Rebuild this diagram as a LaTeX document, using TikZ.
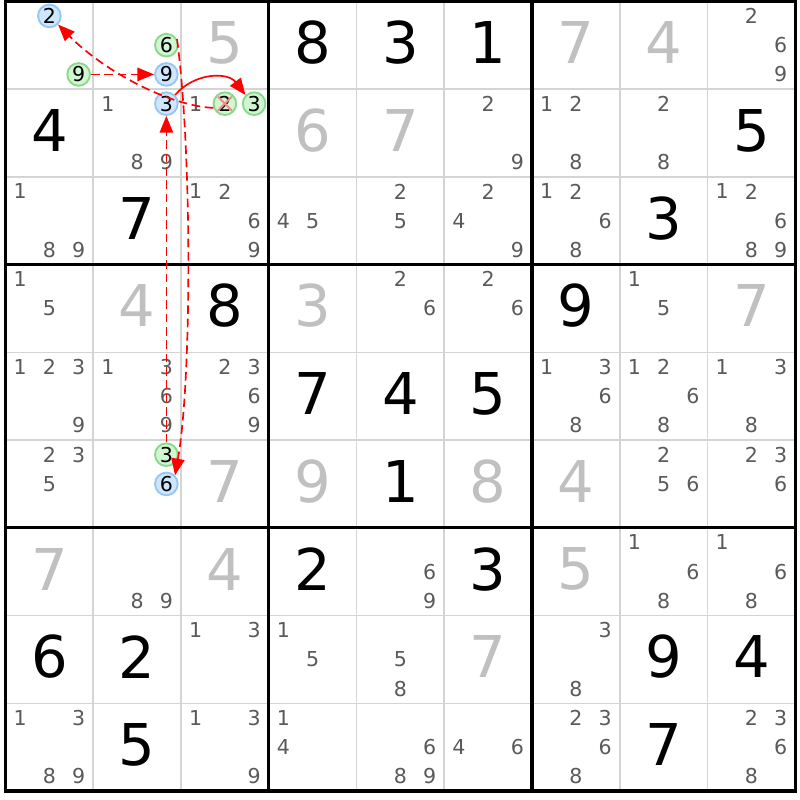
\documentclass[tikz,border=0pt]{standalone}
\usepackage{fontspec}
\setmainfont{DejaVu Sans}
\usetikzlibrary{arrows.meta}
\definecolor{candgray}{HTML}{5A5A5A}
\definecolor{solvedgray}{HTML}{C0C0C0}
\definecolor{thingrid}{HTML}{D4D4D4}
\definecolor{bluefill}{HTML}{CFE6FF}
\definecolor{blueedge}{HTML}{96C6F5}
\definecolor{greenfill}{HTML}{D2F5D2}
\definecolor{greenedge}{HTML}{8AD98A}
\definecolor{crosspink}{HTML}{F28C8C}
\newcommand\sdcand[4][candtxt]{%
  \pgfmathsetmacro\sdx{5.5+87.75*(#3-1)+29.25*(mod(#4-1,3)+0.5)}%
  \pgfmathsetmacro\sdy{1.3+87.75*(#2-1)+29.25*(floor((#4-1)/3)+0.5)}%
  \node[#1] (k#2#3#4) at (\sdx,\sdy) {#4};}
\begin{document}
\begin{tikzpicture}[x=0.75pt,y=-0.75pt,
  given/.style={font=\fontsize{43.2}{50}\selectfont, text=black, inner sep=0pt},
  solved/.style={given, text=solvedgray},
  candtxt/.style={font=\fontsize{15.4}{18}\selectfont, text=candgray, inner sep=0pt},
  bluecand/.style={circle, draw=blueedge, fill=bluefill, line width=1.4pt, minimum size=17pt, inner sep=0pt, text=black, font=\fontsize{15.4}{18}\selectfont},
  greencand/.style={bluecand, draw=greenedge, fill=greenfill},
  weaklink/.style={draw=red, line width=1.25pt, dash pattern=on 6.5pt off 3.5pt, -{Triangle[length=12.5pt,width=10pt]}},
  stronglink/.style={draw=red, line width=1.25pt, -{Triangle[length=12.5pt,width=10pt]}},
  thinline/.style={draw=thingrid, line width=1.2pt},
  thickline/.style={draw=black, line width=2.4pt, line cap=rect}]
\useasboundingbox[fill=white] (0,0) rectangle (800,800);
% grid
\foreach \i in {1,2,4,5,7,8} {
  \draw[thinline] ({5.5+87.75*\i},1.3) -- ({5.5+87.75*\i},791.05);
  \draw[thinline] (5.5,{1.3+87.75*\i}) -- (795.25,{1.3+87.75*\i});
}
\foreach \i in {0,3,6,9} {
  \draw[thickline] ({5.5+87.75*\i},1.3) -- ({5.5+87.75*\i},791.05);
  \draw[thickline] (5.5,{1.3+87.75*\i}) -- (795.25,{1.3+87.75*\i});
}
% given digits
\foreach \r/\c/\v in {1/4/8,1/5/3,1/6/1,2/1/4,2/9/5,3/2/7,3/8/3,4/3/8,4/7/9,5/4/7,5/5/4,5/6/5,6/5/1,7/4/2,7/6/3,8/1/6,8/2/2,8/8/9,8/9/4,9/2/5,9/8/7}
  \node[given] (g\r\c) at ({5.5+87.75*(\c-0.5)},{1.3+87.75*(\r-0.5)-2.5}) {\v};
% solved digits
\foreach \r/\c/\v in {1/3/5,1/7/7,1/8/4,2/4/6,2/5/7,4/2/4,4/4/3,4/9/7,6/3/7,6/4/9,6/6/8,6/7/4,7/1/7,7/3/4,7/7/5,8/6/7}
  \node[solved] (g\r\c) at ({5.5+87.75*(\c-0.5)},{1.3+87.75*(\r-0.5)-2.5}) {\v};
% candidates
\foreach \r/\c/\ds in {1/9/{2,6,9},2/2/{1,8,9},2/3/{1},2/6/{2,9},2/7/{1,2,8},2/8/{2,8},
  3/1/{1,8,9},3/3/{1,2,6,9},3/4/{4,5},3/5/{2,5},3/6/{2,4,9},3/7/{1,2,6,8},3/9/{1,2,6,8,9},
  4/1/{1,5},4/5/{2,6},4/6/{2,6},4/8/{1,5},
  5/1/{1,2,3,9},5/2/{1,3,6,9},5/3/{2,3,6,9},5/7/{1,3,6,8},5/8/{1,2,6,8},5/9/{1,3,8},
  6/1/{2,3,5},6/8/{2,5,6},6/9/{2,3,6},
  7/2/{8,9},7/5/{6,9},7/8/{1,6,8},7/9/{1,6,8},
  8/3/{1,3},8/4/{1,5},8/5/{5,8},8/7/{3,8},
  9/1/{1,3,8,9},9/3/{1,3,9},9/4/{1,4},9/5/{6,8,9},9/6/{4,6},9/7/{2,3,6,8},9/9/{2,3,6,8}}
  { \foreach \d in \ds { \sdcand{\r}{\c}{\d} } }
% chain candidates
\sdcand[bluecand]{1}{1}{2}
\sdcand[greencand]{1}{1}{9}
\sdcand[greencand]{1}{2}{6}
\sdcand[bluecand]{1}{2}{9}
\sdcand[bluecand]{2}{2}{3}
\sdcand[greencand]{2}{3}{2}
\sdcand[greencand]{2}{3}{3}
\sdcand[greencand]{6}{2}{3}
\sdcand[bluecand]{6}{2}{6}
% elimination cross
\draw[crosspink, line width=1.5pt] ([shift={(-7,-7)}]k232.center) -- ([shift={(7,7)}]k232.center);
\draw[crosspink, line width=1.5pt] ([shift={(7,-7)}]k232.center) -- ([shift={(-7,7)}]k232.center);
% links
\draw[weaklink] (k119) -- (k129);
\draw[weaklink] (k126.30) .. controls (192,150) and (192,380) .. (k626.45);
\draw[weaklink] (k623) -- (k223);
\draw[stronglink] (k223.45) .. controls (195,72) and (228,72) .. (k233.135);
\draw[weaklink] (k232.200) .. controls (170,106) and (105,72) .. (k112.-45);
\end{tikzpicture}
\end{document}
